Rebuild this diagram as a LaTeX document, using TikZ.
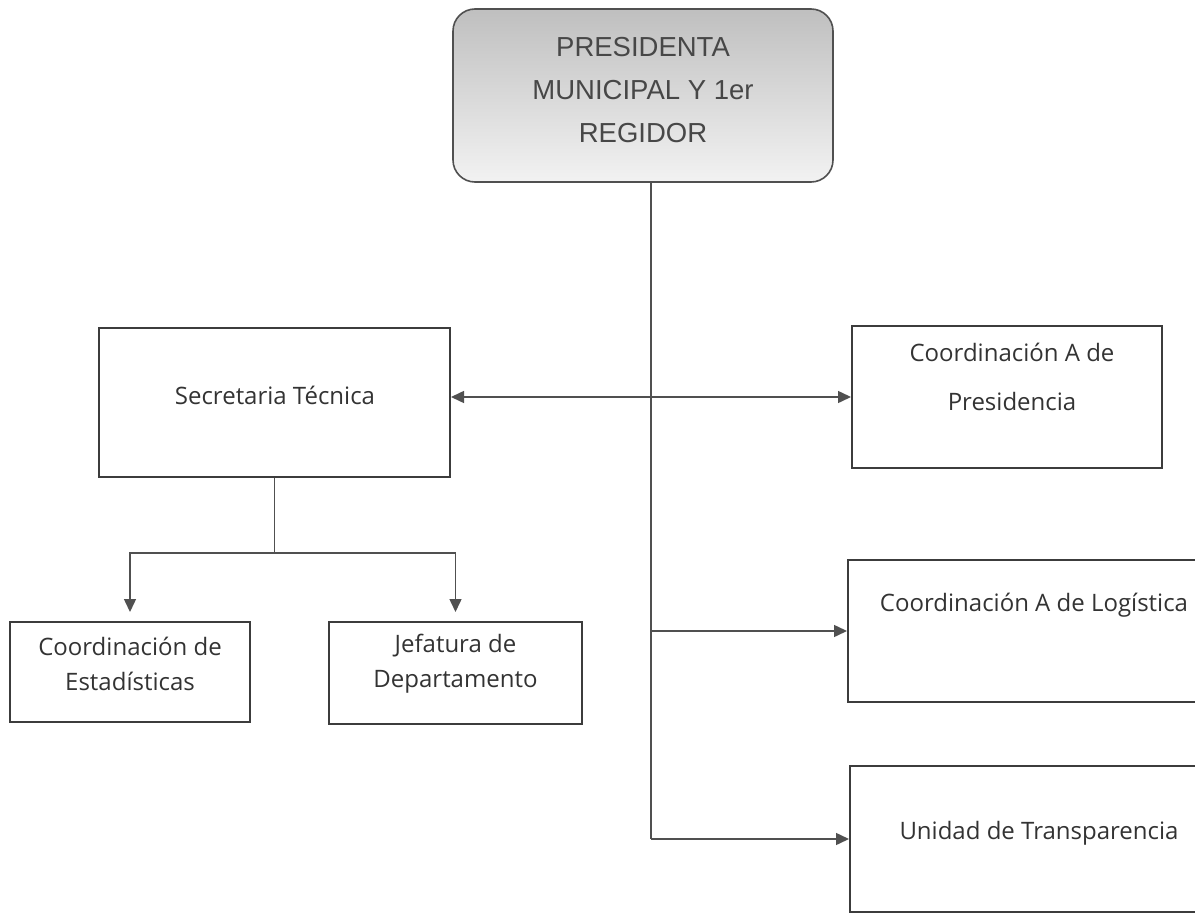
\documentclass[tikz,border=0pt]{standalone}
\usepackage{fontspec}
\setmainfont{Liberation Sans}
\newfontfamily\boxfont{Open Sans}
\usetikzlibrary{arrows.meta}

\definecolor{linegray}{HTML}{3C3C3C}
\definecolor{textgray}{HTML}{333333}

\begin{document}
\begin{tikzpicture}[x=1pt, y=-1pt,
    box/.style={draw=linegray, line width=2pt, inner sep=0pt},
    topbox/.style={draw=linegray!90, line width=1.6pt, rounded corners=22pt,
        top color=black!25, bottom color=black!5, inner sep=0pt,
        minimum width=380pt, minimum height=173pt},
    toptext/.style={text=textgray!90, align=center, font=\fontsize{27.5}{43}\selectfont},
    boxtext/.style={text=textgray, align=center, inner sep=0pt},
    link/.style={draw=linegray!90, line width=1.5pt},
    arr/.style={link, -{Triangle[length=13pt, width=12pt]}}]

\useasboundingbox (0,0) rectangle (1195,915);

\node[topbox] (presidenta) at (643,95.5) {};
\node[toptext] (presidentatext) at (643,90) {PRESIDENTA\\MUNICIPAL Y 1er\\REGIDOR};

\node[box, minimum width=351pt, minimum height=149pt] (secretaria) at (274.5,402.5) {};
\node[boxtext, font=\boxfont\fontsize{24}{30}\selectfont] (secretariatext) at (275,395) {Secretaria Técnica};

\node[box, minimum width=310pt, minimum height=142pt] (coordpres) at (1007,397) {};
\node[boxtext, font=\boxfont\fontsize{24}{49}\selectfont] (coordprestext) at (1012,377) {Coordinación A de\\Presidencia};

\node[box, minimum width=364pt, minimum height=142pt] (logistica) at (1030,631) {};
\node[boxtext, font=\boxfont\fontsize{24}{30}\selectfont] (logisticatext) at (1034,605) {Coordinación A de Logística};

\node[box, minimum width=362pt, minimum height=146pt] (transparencia) at (1031,839) {};
\node[boxtext, font=\boxfont\fontsize{24}{30}\selectfont] (transparenciatext) at (1039,833) {Unidad de Transparencia};

\node[box, minimum width=240pt, minimum height=100pt] (estadisticas) at (130,672) {};
\node[boxtext, font=\boxfont\fontsize{24}{35}\selectfont] (estadisticastext) at (130,663.5) {Coordinación de\\Estadísticas};

\node[box, minimum width=253pt, minimum height=102pt] (jefatura) at (455.5,673) {};
\node[boxtext, font=\boxfont\fontsize{24}{35}\selectfont] (jefaturatext) at (455.5,663.5) {Jefatura de\\Departamento};

\coordinate (trunk) at (651,182);

\draw[link] (trunk) -- (trunk |- transparencia.west);
\draw[arr] (trunk |- logistica.west) -- (logistica.west);
\draw[arr] (trunk |- transparencia.west) -- (transparencia.west);
\draw[link, {Triangle[length=13pt, width=12pt]}-{Triangle[length=13pt, width=12pt]}]
    (secretaria.east |- coordpres.west) -- (coordpres.west);

\draw[link] (secretaria.south) -- ++(0,75) coordinate (split);
\draw[arr, shorten >=9pt] (split) -| (estadisticas.north);
\draw[arr, shorten >=9pt] (split) -| (jefatura.north);

\end{tikzpicture}
\end{document}
